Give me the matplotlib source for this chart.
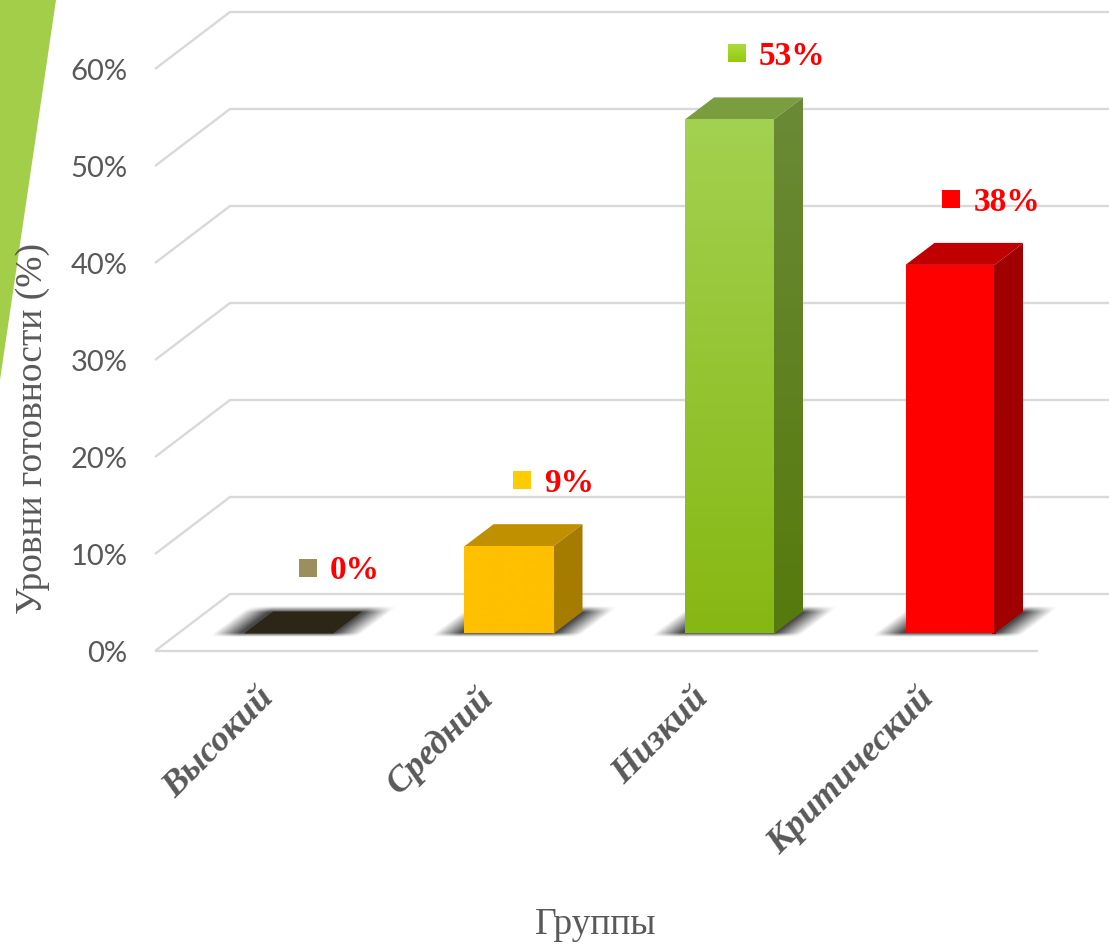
import numpy as np
import matplotlib
matplotlib.use('Agg')
import matplotlib.pyplot as plt
from matplotlib.colors import to_rgb
from matplotlib.patches import Polygon

# данные
groups = ['Высокий', 'Средний', 'Низкий', 'Критический']
values = [0, 9, 53, 38]
y_ticks = [0, 10, 20, 30, 40, 50, 60]
y_tick_labels = ['0%', '10%', '20%', '30%', '40%', '50%', '60%']

front_colors = [('#2b2616', '#2b2616'), ('#ffc000', '#ffc000'), ('#a3d151', '#86b813'), ('#ff0000', '#ff0000')]
top_colors = ['#2b2616', '#c09000', '#7a9e3f', '#c00000']
side_colors = [('#2b2616', '#2b2616'), ('#a67c00', '#a67c00'), ('#6b8a37', '#567a0c'), ('#a00000', '#a00000')]
key_colors = [('#9c8f5e', '#9c8f5e'), ('#ffcc05', '#ffcc05'), ('#abdc3c', '#95c90e'), ('#ff0000', '#ff0000')]
label_shift = [-19, -20, -26, -21]  # сдвиг подписей категорий, пиксели

GRAY = '#595959'
W, H = 1109, 946
X_UNIT = 220.5   # пикселей на одну категорию
Y_UNIT = 9.7     # пикселей на один процент
X0, Y0 = 288.5, 633.5

fig, ax = plt.subplots(figsize=(W / 100, H / 100), dpi=100)
fig.subplots_adjust(0, 0, 1, 1)
xlim = (-X0 / X_UNIT, (W - X0) / X_UNIT)
ylim = ((Y0 - H) / Y_UNIT, Y0 / Y_UNIT)
ax.axis('off')

bar_w = 89 / X_UNIT
dep_x, dep_y = 29 / X_UNIT, 22 / Y_UNIT

# боковая полоса слева
ax.add_patch(Polygon([(0, 1), (56 / W, 1), (0, 1 - 380 / H)], transform=ax.transAxes,
                     color='#a2ce4a', lw=0, zorder=1))

# стенка и пол
left = -133.5 / X_UNIT
right = 749.5 / X_UNIT
floor = -17.5 / Y_UNIT
wall_x, wall_y = 75 / X_UNIT, 57 / Y_UNIT
grid_kw = dict(color='#d9d9d9', lw=1.7, zorder=2, solid_capstyle='butt')
ax.plot([left, right], [floor, floor], **grid_kw)
for t in y_ticks:
    ax.plot([left, left + wall_x, xlim[1]], [floor + t, floor + t + wall_y, floor + t + wall_y], **grid_kw)
    ax.text(-161 / X_UNIT, floor + t - 0.35, y_tick_labels[y_ticks.index(t)], ha='right', va='center',
            fontsize=21, family='Lato', color=GRAY, zorder=6)


def gradient(poly, c_top, c_bottom, zorder):
    xs = [p[0] for p in poly]
    ys = [p[1] for p in poly]
    arr = np.linspace(to_rgb(c_top), to_rgb(c_bottom), 256).reshape(256, 1, 3)
    im = ax.imshow(arr, extent=(min(xs), max(xs), min(ys), max(ys)), aspect='auto', zorder=zorder,
                   interpolation='bilinear')
    patch = Polygon(poly, transform=ax.transData, fc='none', ec='none')
    ax.add_patch(patch)
    im.set_clip_path(patch)


def shadow(cx):
    # мягкая тень на полу: косой параллелограмм с размытыми краями
    xx = np.linspace(cx - 120 / X_UNIT, cx + 140 / X_UNIT, 300)
    yy = np.linspace(-8 / Y_UNIT, 32 / Y_UNIT, 60)
    gx, gy = np.meshgrid(xx, yy)
    d = gy / dep_y
    s = (gx - cx - d * dep_x) * X_UNIT
    half = bar_w / 2 * X_UNIT
    edge_x = np.clip((half + 30 - np.abs(s)) / 27, 0, 1)
    edge_y = np.clip((gy * Y_UNIT + 4) / 4, 0, 1) * np.clip((27 - gy * Y_UNIT) / 6, 0, 1)
    rgba = np.zeros(gx.shape + (4,))
    rgba[..., :3] = 0.25
    rgba[..., 3] = edge_x * edge_y * 0.95
    ax.imshow(rgba, extent=(xx[0], xx[-1], yy[0], yy[-1]), origin='lower', aspect='auto', zorder=3,
              interpolation='bilinear')


for i, v in enumerate(values):
    l, r = i - bar_w / 2, i + bar_w / 2
    shadow(i)
    top = [(l, v), (r, v), (r + dep_x, v + dep_y), (l + dep_x, v + dep_y)]
    ax.add_patch(Polygon(top, color=top_colors[i], lw=0, zorder=4))
    if v > 0:
        # подложка, чтобы не было светлого шва между гранями
        ax.add_patch(Polygon([(r - 2 / X_UNIT, 0), (r + 2 / X_UNIT, 0), (r + 2 / X_UNIT, v), (r - 2 / X_UNIT, v)],
                             color=side_colors[i][1], lw=0, zorder=4))
        gradient([(r, 0), (r + dep_x, dep_y), (r + dep_x, v + dep_y), (r, v)], side_colors[i][0], side_colors[i][1], 5)
        gradient([(l, 0), (r, 0), (r, v), (l, v)], front_colors[i][0], front_colors[i][1], 5)

    # подпись значения с ключом легенды (ключи идут чуть плотнее столбиков)
    kx, ky = i + (19.5 - 6.1 * i) / X_UNIT, v + 6.8
    kw, kh = 9 / X_UNIT, 9 / Y_UNIT
    gradient([(kx - kw, ky - kh), (kx + kw, ky - kh), (kx + kw, ky + kh), (kx - kw, ky + kh)],
             key_colors[i][0], key_colors[i][1], 6)
    ax.text(kx + 22 / X_UNIT, ky - 0.35, f'{v}%', ha='left', va='center', fontsize=24, family='Liberation Serif',
            fontweight='bold', color='#ff0000', zorder=6)

    # подпись категории
    ax.text(i + label_shift[i] / X_UNIT, -60 / Y_UNIT, groups[i], rotation=45, rotation_mode='anchor', ha='right',
            va='center', fontsize=26, family='Liberation Serif', style='italic', fontweight='bold', color=GRAY,
            zorder=6)

ax.text(33 / W, 1 - 428 / H, 'Уровни готовности (%)', transform=ax.transAxes, rotation=90, ha='center', va='center',
        fontsize=27, family='Liberation Serif', color=GRAY, zorder=6)
ax.text(596 / W, 1 - 925 / H, 'Группы', transform=ax.transAxes, ha='center', va='center',
        fontsize=27, family='Liberation Serif', color=GRAY, zorder=6)

ax.set_xlim(xlim)
ax.set_ylim(ylim)
fig.savefig('out.png', dpi=100, facecolor='white')
